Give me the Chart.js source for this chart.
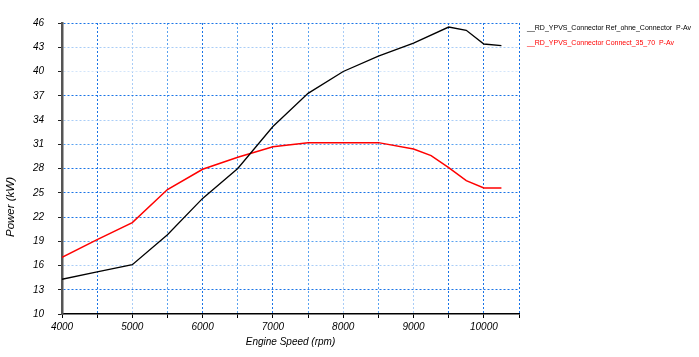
<!DOCTYPE html>
<html lang="en">
<head>
    <meta charset="UTF-8">
    <title>Power vs Engine Speed</title>
    <script src="https://cdn.jsdelivr.net/npm/chart.js"></script>
    <style>
        body { margin: 0; background: #fff; }
        #wrap { position: relative; width: 699px; height: 357px; }
        .legenda { position: absolute; left: 527px; font: 7px "Liberation Sans", Arial, sans-serif; white-space: pre; }
    </style>
</head>
<body>
    <div id="wrap">
        <canvas id="myChartCanvas" width="699" height="357"></canvas>
        <div class="legenda" id="leg1" style="top:24px;color:#000"></div>
        <div class="legenda" id="leg2" style="top:39px;color:#ff0000"></div>
    </div>

<script>
    // dados
    var nomeSerie1 = "__RD_YPVS_Connector Ref_ohne_Connector  P-Av"
    var nomeSerie2 = "__RD_YPVS_Connector Connect_35_70  P-Av"

    var rpmRef = [4000, 4500, 5000, 5500, 6000, 6500, 7000, 7500, 8000, 8500, 9000, 9500, 9750, 10000, 10250]
    var potRef = [14.3, 15.2, 16.1, 19.8, 24.3, 28.0, 33.2, 37.3, 40.0, 41.9, 43.5, 45.5, 45.1, 43.4, 43.2]

    var rpmCon = [4000, 4500, 5000, 5500, 6000, 6500, 7000, 7500, 8000, 8500, 9000, 9250, 9500, 9750, 10000, 10250]
    var potCon = [17.0, 19.2, 21.3, 25.4, 27.9, 29.4, 30.7, 31.2, 31.2, 31.2, 30.4, 29.6, 28.1, 26.5, 25.6, 25.6]

    var ticksX = [4000, 4500, 5000, 5500, 6000, 6500, 7000, 7500, 8000, 8500, 9000, 9500, 10000, 10500]
    var ticksY = [10, 13, 16, 19, 22, 25, 28, 31, 34, 37, 40, 43, 46]

    document.getElementById("leg1").textContent = nomeSerie1
    document.getElementById("leg2").textContent = nomeSerie2

    function pontos(xs, ys) {
        var lista = []
        for (var i = 0; i < xs.length; i++) {
            lista.push({ x: xs[i], y: ys[i] })
        }
        return lista
    }

    // tons das linhas de grade (imitando o original)
    var corEscura = "#1a74e6"
    var corMedia = "#5aa2f0"
    var corClara = "#a9cdf7"
    var gradeX = { 4500: corEscura, 5000: corClara, 5500: corMedia, 6000: corEscura, 6500: corMedia, 7000: corEscura, 7500: corMedia, 8000: corClara, 8500: corMedia, 9000: corClara, 9500: corEscura, 10000: corEscura, 10500: corEscura }
    var gradeY = { 46: corEscura, 43: corClara, 40: "#d3e5fa", 37: corEscura, 34: corClara, 31: corMedia, 28: corEscura, 25: corEscura, 22: corEscura, 19: corMedia, 16: corClara, 13: corEscura }

    var fonte = { family: "'Liberation Sans', Arial, sans-serif", size: 10, style: "italic" }

    // título do eixo Y desenhado à mão para ficar na mesma posição
    const tituloY = {
        id: "tituloY",
        afterDraw(chart) {
            const ctx = chart.ctx
            ctx.save()
            ctx.translate(11, 207)
            ctx.rotate(-Math.PI / 2)
            ctx.font = "italic 11.5px 'Liberation Sans', Arial, sans-serif"
            ctx.fillStyle = "#000"
            ctx.textAlign = "center"
            ctx.textBaseline = "middle"
            ctx.fillText("Power (kW)", 0, 0)
            ctx.restore()
        }
    }

    const config = {
        type: "line",
        data: {
            datasets: [
                {
                    label: nomeSerie1,
                    data: pontos(rpmRef, potRef),
                    borderColor: "#000000",
                    borderWidth: 1.3,
                    pointRadius: 0,
                    tension: 0,
                    fill: false
                },
                {
                    label: nomeSerie2,
                    data: pontos(rpmCon, potCon),
                    borderColor: "#ff0000",
                    borderWidth: 1.5,
                    pointRadius: 0,
                    tension: 0,
                    fill: false
                }
            ]
        },
        options: {
            responsive: false,
            animation: false,
            layout: { padding: { top: 23, right: 180, left: 0, bottom: 9 } },
            plugins: { legend: { display: false }, tooltip: { enabled: false } },
            scales: {
                x: {
                    type: "linear",
                    min: 4000,
                    max: 10500,
                    afterFit: function (s) { s.height = 34 },
                    afterBuildTicks: function (s) { s.ticks = ticksX.map(function (v) { return { value: v } }) },
                    ticks: {
                        autoSkip: false,
                        maxRotation: 0,
                        padding: 3,
                        color: "#000",
                        font: fonte,
                        callback: function (v) { return v % 1000 == 0 ? v : "" }
                    },
                    grid: {
                        color: function (c) { return c.tick && gradeX[c.tick.value] ? gradeX[c.tick.value] : "rgba(0,0,0,0)" },
                        lineWidth: 1,
                        tickColor: "#000",
                        tickLength: 4
                    },
                    border: { color: "#000", width: 1.5, dash: [2, 2] },
                    title: {
                        display: true,
                        text: "Engine Speed (rpm)",
                        color: "#000",
                        font: fonte,
                        padding: { top: 2, bottom: 0 }
                    }
                },
                y: {
                    min: 10,
                    max: 46,
                    afterFit: function (s) { s.width = 62 },
                    afterBuildTicks: function (s) { s.ticks = ticksY.map(function (v) { return { value: v } }) },
                    ticks: {
                        padding: 14,
                        color: "#000",
                        font: fonte
                    },
                    grid: {
                        color: function (c) { return c.tick && gradeY[c.tick.value] ? gradeY[c.tick.value] : "rgba(0,0,0,0)" },
                        lineWidth: 1,
                        tickColor: "#222",
                        tickLength: 4
                    },
                    border: { color: "#555", width: 2.5, dash: [2, 2] }
                }
            }
        },
        plugins: [tituloY]
    }

    let myChart = new Chart(document.getElementById("myChartCanvas"), config)
</script>
</body>
</html>
